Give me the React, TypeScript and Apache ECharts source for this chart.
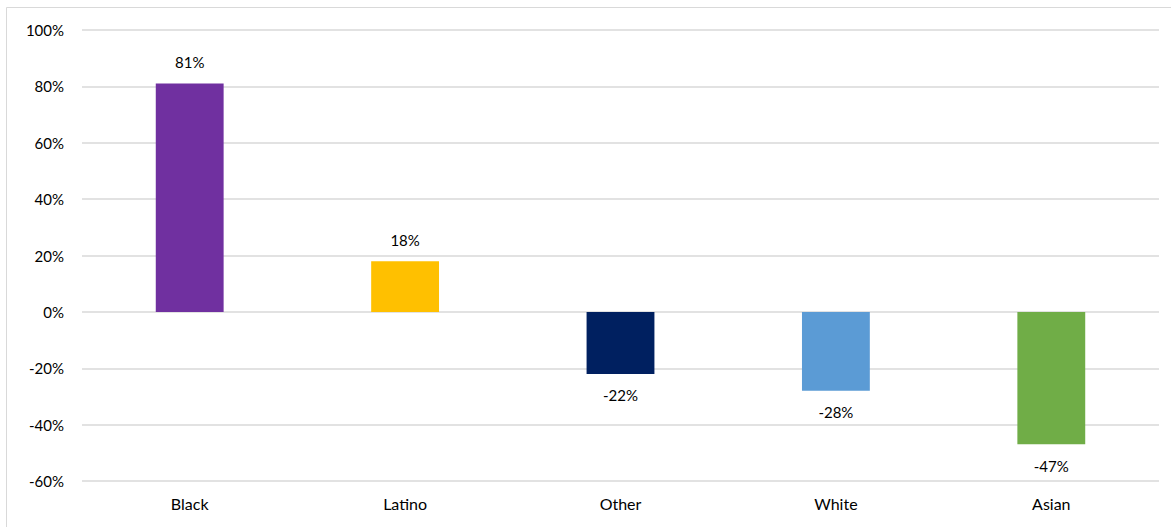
import React, { useEffect, useRef } from "react";
import * as echarts from "echarts";

const categories = ["Black", "Latino", "Other", "White", "Asian"];
const values = [81, 18, -22, -28, -47];
const colors = ["#7030A0", "#FFC000", "#002060", "#5B9BD5", "#70AD47"];

export default function App() {
  const ref = useRef<HTMLDivElement>(null);
  useEffect(() => {
    const chart = echarts.init(ref.current!, null, { renderer: "svg" });
    chart.setOption({
      animation: false,
      backgroundColor: "#ffffff",
      graphic: [
        {
          type: "rect",
          shape: { x: 6.5, y: 7.5, width: 1200, height: 600 },
          style: { fill: "none", stroke: "#d9d9d9", lineWidth: 1 },
          silent: true,
        },
      ],
      grid: { left: 82, right: 12, top: 30, bottom: 46 },
      xAxis: {
        type: "category",
        data: categories,
        axisLine: { show: false },
        axisTick: { show: false },
        axisLabel: {
          margin: 14,
          color: "#000",
          fontFamily: "Lato",
          fontSize: 16,
        },
      },
      yAxis: {
        type: "value",
        min: -60,
        max: 100,
        interval: 20,
        axisLabel: {
          formatter: "{value}%",
          margin: 18,
          color: "#000",
          fontFamily: "Lato",
          fontSize: 15,
        },
        splitLine: { lineStyle: { color: "#d9d9d9", width: 1.5 } },
      },
      series: [
        {
          type: "bar",
          barWidth: "31.5%",
          data: values.map((v, i) => ({
            value: v,
            itemStyle: { color: colors[i] },
            label: {
              show: true,
              position: v >= 0 ? "top" : "bottom",
              distance: 14,
              formatter: v + "%",
              color: "#000",
              fontFamily: "Lato",
              fontSize: 15,
            },
          })),
        },
      ],
    });
    return () => chart.dispose();
  }, []);
  return (
    <div
      ref={ref}
      style={{ position: "fixed", left: 0, top: 0, width: 1171, height: 527 }}
    />
  );
}
